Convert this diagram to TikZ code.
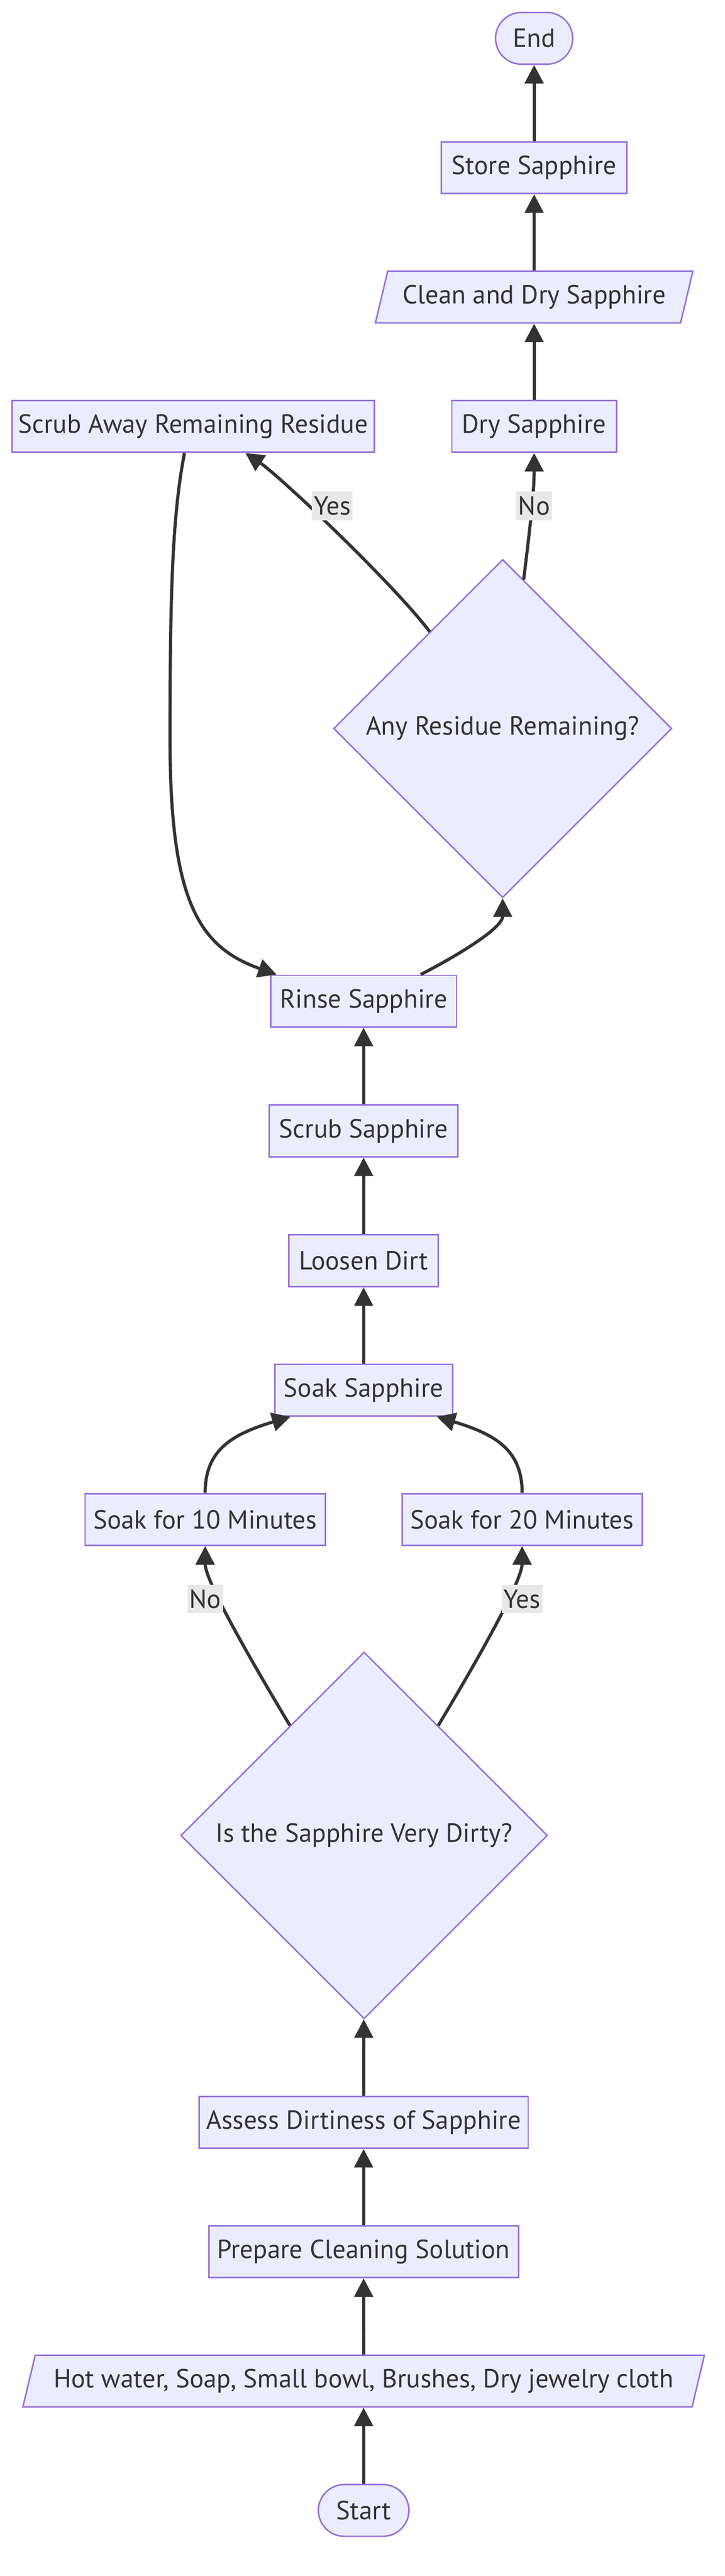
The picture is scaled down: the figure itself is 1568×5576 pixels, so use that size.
\documentclass[tikz,border=0pt]{standalone}
\usepackage{fontspec}
\setmainfont{PT Sans}
\usetikzlibrary{arrows.meta,shapes.geometric}

\definecolor{nodefill}{HTML}{ECECFF}
\definecolor{nodeborder}{HTML}{9370DB}
\definecolor{textgray}{HTML}{333333}
\definecolor{linegray}{HTML}{333333}
\definecolor{labelgray}{HTML}{E8E8E8}

\tikzset{
    proc/.style={draw=nodeborder, fill=nodefill, line width=0.8pt, text=textgray,
        minimum height=28pt, inner xsep=0pt, inner ysep=0pt,
        font=\fontsize{14.2}{16}\selectfont},
    term/.style={proc, rounded corners=14pt},
    io/.style={proc, trapezium, trapezium left angle=63, trapezium right angle=117,
        trapezium stretches body},
    decide/.style={proc, diamond, aspect=1},
    lbl/.style={fill=labelgray, text=textgray, inner xsep=1pt, inner ysep=0pt,
        minimum height=15.5pt, font=\fontsize{14.2}{16}\selectfont},
    arr/.style={draw=linegray, line width=1.7pt, -{Triangle[length=10pt,width=10pt]}}
}

\begin{document}
\begin{tikzpicture}[x=0.25pt, y=-0.25pt]
    \useasboundingbox (0,0) rectangle (1568,5576);

    % Define coordinates
    \coordinate (loopl) at (368,1600);

    % Draw nodes
    \node[term, minimum width=41.75pt] (end) at (1156,83) {End};
    \node[proc, minimum width=100.5pt] (store) at (1156,363) {Store Sapphire};
    \node[io, minimum width=171.75pt] (clean) at (1156,643) {Clean and Dry Sapphire};
    \node[proc, minimum width=196pt] (scrubaway) at (418,923) {Scrub Away Remaining Residue};
    \node[proc, minimum width=89pt] (dry) at (1156,923) {Dry Sapphire};
    \node[decide, minimum size=183pt] (residue) at (1088,1577) {Any Residue Remaining?};
    \node[proc, minimum width=100.5pt] (rinse) at (787,2167) {Rinse Sapphire};
    \node[proc, minimum width=102pt] (scrub) at (787,2448) {Scrub Sapphire};
    \node[proc, minimum width=80.75pt] (loosen) at (787,2729) {Loosen Dirt};
    \node[proc, minimum width=96.25pt] (soak) at (787,3009) {Soak Sapphire};
    \node[proc, minimum width=130pt] (soak10) at (444,3289) {Soak for 10 Minutes};
    \node[proc, minimum width=130pt] (soak20) at (1130,3289) {Soak for 20 Minutes};
    \node[decide, minimum size=198.5pt] (dirty) at (788,3973) {Is the Sapphire Very Dirty?};
    \node[proc, minimum width=178pt] (assess) at (787,4594) {Assess Dirtiness of Sapphire};
    \node[proc, minimum width=167.5pt] (prepare) at (787,4874) {Prepare Cleaning Solution};
    \node[io, minimum width=368.75pt] (supplies) at (787,5154) {Hot water, Soap, Small bowl, Brushes, Dry jewelry cloth};
    \node[term, minimum width=49pt] (start) at (787,5434) {Start};

    % Draw straight edges
    \draw[arr] (start) -- (supplies);
    \draw[arr] (supplies) -- (prepare);
    \draw[arr] (prepare) -- (assess);
    \draw[arr] (assess) -- (dirty);
    \draw[arr] (soak) -- (loosen);
    \draw[arr] (loosen) -- (scrub);
    \draw[arr] (scrub) -- (rinse);
    \draw[arr] (dry) -- (clean);
    \draw[arr] (clean) -- (store);
    \draw[arr] (store) -- (end);

    % Draw curved edges
    \draw[arr] (dirty.124) .. controls (530,3572) and (444,3420) .. (soak10.south);
    \draw[arr] (dirty.56) .. controls (1046,3572) and (1130,3420) .. (soak20.south);
    \draw[arr] (soak10.north) .. controls (444,3140) and (500,3105) .. (soak.200);
    \draw[arr] (soak20.north) .. controls (1130,3140) and (1074,3105) .. (soak.340);
    \draw[arr] (rinse.25) .. controls (985,2071) and (1088,2010) .. (residue.south);
    \draw[arr] (residue.127) .. controls (850,1262) and (605,1030) .. (scrubaway.-27);
    \draw[arr] (residue.82) .. controls (1150,1120) and (1156,1060) .. (dry.south);
    \draw[arr] (scrubaway.252) .. controls (372,1120) and (368,1300) .. (loopl)
        .. controls (368,1950) and (430,2050) .. (rinse.163);

    % Edge labels
    \node[lbl] (yes1) at (719,1095) {Yes};
    \node[lbl] (no1) at (1156,1095) {No};
    \node[lbl] (no2) at (444,3461) {No};
    \node[lbl] (yes2) at (1130,3461) {Yes};

\end{tikzpicture}
\end{document}
